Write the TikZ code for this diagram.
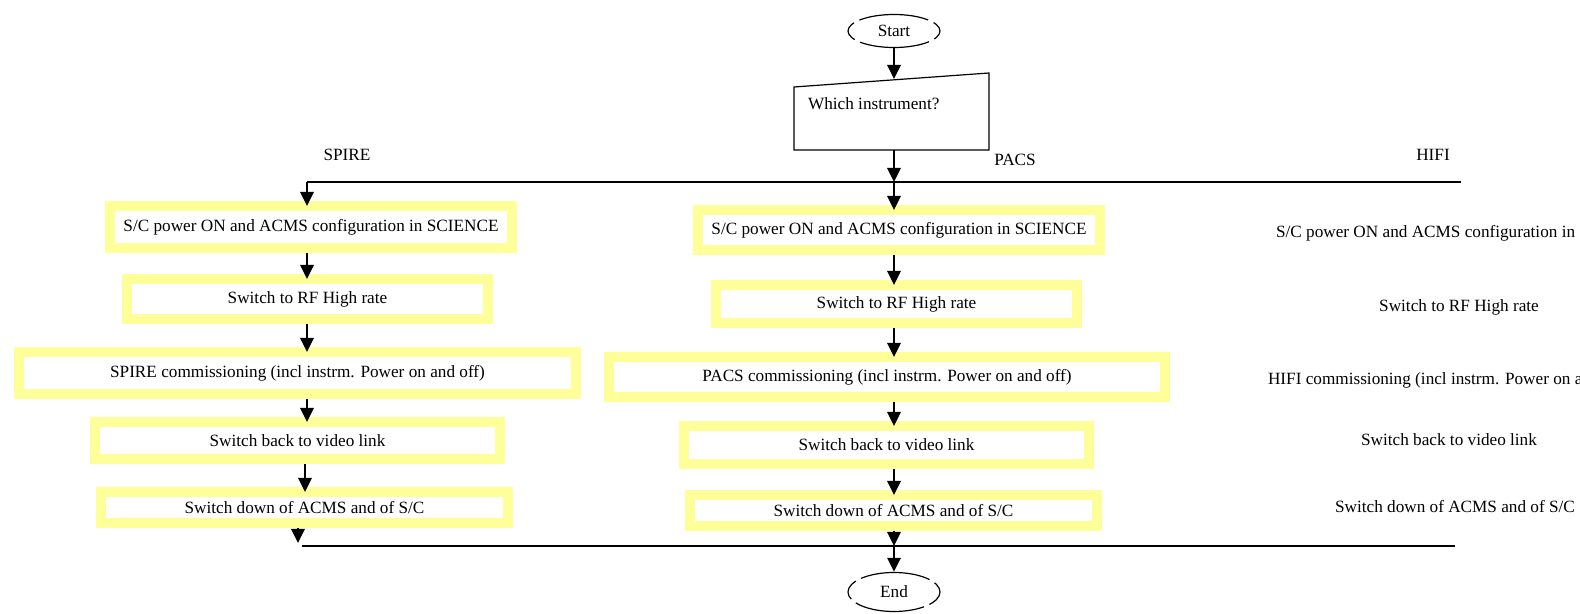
\documentclass[tikz,border=0pt]{standalone}
\usepackage{fontspec}
\setmainfont{Liberation Serif}
\usetikzlibrary{arrows.meta,shapes.geometric}
\definecolor{framey}{RGB}{255,255,153}
\tikzset{
  stepbox/.style={draw=framey, line width=5pt, fill=white, inner sep=0pt, outer sep=0pt},
  flow/.style={-{Triangle[length=7pt,width=6.5pt]}, line width=1.4pt, shorten <=2.5pt},
  bus/.style={line width=0.7pt},
  term/.style={ellipse, draw, line width=0.6pt, inner sep=0pt, minimum width=46pt, minimum height=16.5pt,
    dash pattern=on 11pt off 3pt on 35pt off 3pt, dash phase=5.5pt},
}
\begin{document}
\begin{tikzpicture}[x=0.5pt,y=-0.5pt,font=\fontsize{8.6}{10}\selectfont]
	\useasboundingbox (0,0) rectangle (1580,614);
	\clip (0,0) rectangle (1580,614);
	% start and question
	\node[term] (start) at (894,31) {Start};
	\coordinate (qtl) at (794,87);
	\coordinate (qtr) at (989,73);
	\coordinate (qbr) at (989,150);
	\coordinate (qbl) at (794,150);
	\draw[line width=0.6pt] (qtl) -- (qtr) -- (qbr) -- (qbl) -- cycle;
	\node[anchor=west] (which) at (801,104) {Which instrument?};
	\coordinate (qin) at (894,79);
	\coordinate (qout) at (894,150);
	\draw[flow,shorten <=0pt] (start) -- (qin);
	% top bus
	\coordinate (busL) at (307,182);
	\coordinate (busM) at (894,182);
	\coordinate (busR) at (1461,182);
	\draw[bus] (busL) -- (busR);
	\draw[flow,shorten <=0pt] (qout) -- (busM);
	\node (spire) at (347,155) {SPIRE};
	\node (pacs) at (1015,160) {PACS};
	\node (hifi) at (1433,155) {HIFI};
	% SPIRE
	\node[stepbox, minimum width=201pt, minimum height=21pt] (s1) at (311,227) {S/C power ON and ACMS configuration in SCIENCE};
	\node[stepbox, minimum width=180.5pt, minimum height=20pt] (s2) at (307.5,299) {Switch to RF High rate};
	\node[stepbox, minimum width=278.5pt, minimum height=21pt] (s3) at (297.5,373) {SPIRE commissioning (incl instrm. Power on and off)};
	\node[stepbox, minimum width=202.5pt, minimum height=18.5pt] (s4) at (297.5,440.5) {Switch back to video link};
	\node[stepbox, minimum width=203.5pt, minimum height=15.5pt] (s5) at (304.5,507.5) {Switch down of ACMS and of S/C};
	% PACS
	\node[stepbox, minimum width=201pt, minimum height=20pt] (p1) at (899,230) {S/C power ON and ACMS configuration in SCIENCE};
	\node[stepbox, minimum width=180.5pt, minimum height=19pt] (p2) at (896.5,304) {Switch to RF High rate};
	\node[stepbox, minimum width=278pt, minimum height=20pt] (p3) at (887,377) {PACS commissioning (incl instrm. Power on and off)};
	\node[stepbox, minimum width=202.5pt, minimum height=19pt] (p4) at (886.5,445) {Switch back to video link};
	\node[stepbox, minimum width=203.5pt, minimum height=15.5pt] (p5) at (893.5,510.5) {Switch down of ACMS and of S/C};
	% HIFI
	\node[anchor=west] (h1) at (1269,233) {S/C power ON and ACMS configuration in SCIENCE};
	\node (h2) at (1459,307) {Switch to RF High rate};
	\node[anchor=west] (h3) at (1261,380) {HIFI commissioning (incl instrm. Power on and off)};
	\node (h4) at (1449,440) {Switch back to video link};
	\node (h5) at (1455,507) {Switch down of ACMS and of S/C};
	% arrows
	\draw[flow,shorten <=0pt] (busL) -- (busL |- s1.north);
	\draw[flow] (s1.south -| busL) -- (s2.north -| busL);
	\draw[flow] (s2.south -| busL) -- (s3.north -| busL);
	\draw[flow] (s3.south -| busL) -- (s4.north -| busL);
	\draw[flow] (s4.south -| 305,0) -- (s5.north -| 305,0);
	\draw[flow,shorten <=0pt] (busM) -- (busM |- p1.north);
	\draw[flow] (p1.south -| busM) -- (p2.north -| busM);
	\draw[flow] (p2.south -| busM) -- (p3.north -| busM);
	\draw[flow] (p3.south -| busM) -- (p4.north -| busM);
	\draw[flow] (p4.south -| busM) -- (p5.north -| busM);
	% bottom bus and end
	\coordinate (endL) at (302,546);
	\coordinate (endM) at (894,546);
	\coordinate (endR) at (1455,546);
	\coordinate (sdrop) at (298,543);
	\draw[bus] (endL) -- (endR);
	\draw[flow] (s5.south -| sdrop) -- (sdrop);
	\draw[flow] (p5.south -| endM) -- (endM);
	\node[term, minimum height=19.5pt] (end) at (894,592) {End};
	\draw[flow,shorten <=0pt] (endM) -- (end);
\end{tikzpicture}
\end{document}
